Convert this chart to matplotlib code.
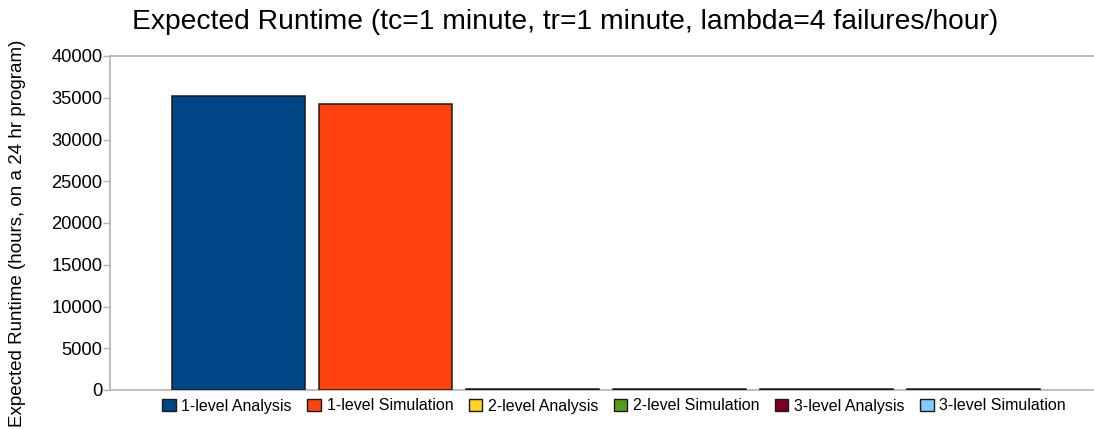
import matplotlib.pyplot as plt
from matplotlib.patches import Patch

# Data
series = ["1-level Analysis", "1-level Simulation", "2-level Analysis",
          "2-level Simulation", "3-level Analysis", "3-level Simulation"]
runtime_hours = [35200, 34250, 60, 60, 60, 60]
colors = ["#004586", "#ff420e", "#ffd320", "#579d1c", "#7e0021", "#83caff"]
yticks = list(range(0, 40001, 5000))

plt.rcParams['font.family'] = ['Liberation Sans', 'DejaVu Sans']

fig = plt.figure(figsize=(10.94, 4.30), dpi=100)
ax = fig.add_axes([110 / 1094, 1 - 390 / 430, 992 / 1094, 334 / 430])

positions = list(range(len(series)))
ax.bar(positions, runtime_hours, width=0.905, color=colors,
       edgecolor="#1a1a1a", linewidth=1.1, zorder=3)

ax.set_xlim(-0.874, len(series) - 1 + 0.874)
ax.set_ylim(0, 40000)
ax.set_yticks(yticks)
ax.set_yticklabels([str(t) for t in yticks], fontsize=13.2)
ax.set_xticks([])

for side in ["left", "bottom", "top"]:
    ax.spines[side].set_color("#b3b3b3")
    ax.spines[side].set_linewidth(1.2)
ax.spines["right"].set_visible(False)
ax.tick_params(axis="y", colors="#b3b3b3", labelcolor="black", length=5, width=1, pad=0.5)

# y label placed to match the reference position
fig.text(18 / 1094, 1 - 233 / 430, "Expected Runtime (hours, on a 24 hr program)",
         rotation=90, ha="center", va="center", fontsize=13.5)
fig.text(565 / 1094, 1 - 22 / 430,
         "Expected Runtime (tc=1 minute, tr=1 minute, lambda=4 failures/hour)",
         ha="center", va="center", fontsize=20.3)

handles = [Patch(facecolor=c, edgecolor="#1a1a1a", linewidth=1.0) for c in colors]
fig.legend(handles, series, loc="center", bbox_to_anchor=(614 / 1094, 1 - 406 / 430),
           ncol=6, frameon=False, fontsize=11.5, handlelength=0.85, handleheight=0.85,
           handletextpad=0.35, columnspacing=0.97, borderpad=0)

fig.savefig("out.png", dpi=100)
